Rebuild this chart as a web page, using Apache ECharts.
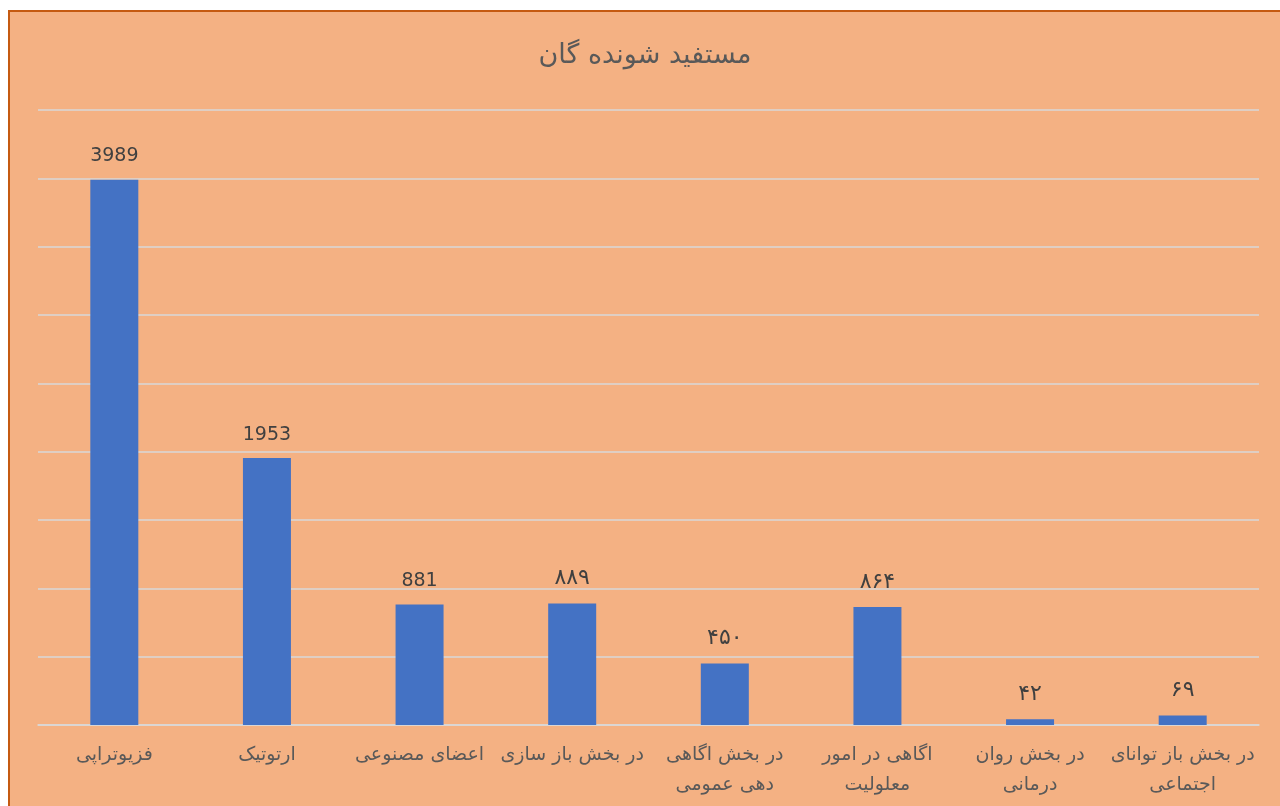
<!DOCTYPE html>
<html>
<head>
<meta charset="utf-8">
<script src="https://cdn.jsdelivr.net/npm/echarts@6/dist/echarts.min.js"></script>
<style>
html,body{margin:0;padding:0;background:#ffffff;width:1280px;height:806px;overflow:hidden;}
#frame{position:absolute;left:8px;top:10px;width:1290px;height:810px;border:2px solid #C55A11;background:#F4B183;}
#chart{position:absolute;left:0;top:0;width:1270px;height:794px;}
</style>
</head>
<body>
<div id="frame"><div id="chart"></div></div>
<script>
const categories = [
  'فزیوتراپی',
  'ارتوتیک',
  'اعضای مصنوعی',
  'در بخش باز سازی',
  'در بخش اگاهی\nدهی عمومی',
  'اگاهی در امور\nمعلولیت',
  'در بخش روان\nدرمانی',
  'در بخش باز توانای\nاجتماعی'
];
const values = [3989, 1953, 881, 889, 450, 864, 42, 69];
const valueLabels = ['3989', '1953', '881', '۸۸۹', '۴۵۰', '۸۶۴', '۴۲', '۶۹'];
const titleText = 'مستفید شونده گان';

const isPersian = s => /[\u06F0-\u06F9]/.test(s);
const seriesData = values.map((v, i) => ({
  value: v,
  label: {fontSize: isPersian(valueLabels[i]) ? 22 : 19}
}));

const chart = echarts.init(document.getElementById('chart'));
chart.setOption({
  backgroundColor: 'transparent',
  animation: false,
  title: {
    text: titleText,
    left: 'center',
    top: 25,
    textStyle: {color: '#595959', fontSize: 27, fontWeight: 'normal', fontFamily: 'DejaVu Sans'}
  },
  grid: {left: 28, right: 21, top: 98, bottom: 81},
  xAxis: {
    type: 'category',
    data: categories,
    axisLine: {lineStyle: {color: '#D9D9D9', width: 1.5}},
    axisTick: {show: false},
    axisLabel: {color: '#595959', fontSize: 19, fontFamily: 'DejaVu Sans', margin: 15, lineHeight: 30, interval: 0}
  },
  yAxis: {
    type: 'value',
    min: 0, max: 4500, interval: 500,
    axisLabel: {show: false},
    axisLine: {show: false},
    axisTick: {show: false},
    splitLine: {lineStyle: {color: '#D9D9D9', width: 1.5}}
  },
  series: [{
    type: 'bar',
    data: seriesData,
    barWidth: 48,
    itemStyle: {color: '#4472C4'},
    label: {
      show: true,
      position: 'top',
      distance: 14,
      color: '#404040',
      fontSize: 19,
      fontFamily: 'DejaVu Sans',
      formatter: p => valueLabels[p.dataIndex]
    }
  }]
});
</script>
</body>
</html>
